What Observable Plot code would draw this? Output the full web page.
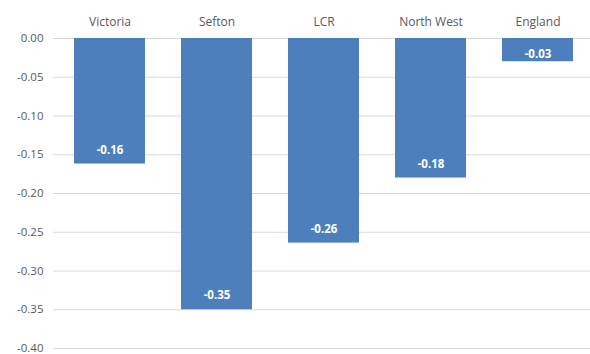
<!DOCTYPE html>
<html>
<head>
<meta charset="utf-8">
<script src="https://cdn.jsdelivr.net/npm/d3@7"></script>
<script src="https://cdn.jsdelivr.net/npm/@observablehq/plot@0.6"></script>
<style>
  html, body { margin: 0; padding: 0; background: #fff; }
  svg { display: block; }
</style>
</head>
<body>
<div id="chart"></div>
<script>
const categories = ["Victoria", "Sefton", "LCR", "North West", "England"];
const values = [-0.162, -0.35, -0.264, -0.18, -0.03];
const labels = ["-0.16", "-0.35", "-0.26", "-0.18", "-0.03"];
const yTicks = [0, -0.05, -0.10, -0.15, -0.20, -0.25, -0.30, -0.35, -0.40];

const data = categories.map((c, i) => ({category: c, value: values[i], label: labels[i]}));
const font = "'Open Sans', 'Liberation Sans', sans-serif";

const chart = Plot.plot({
  width: 590,
  height: 354,
  marginTop: 38,
  marginBottom: 6,
  marginLeft: 53,
  marginRight: 0,
  style: {fontFamily: font, background: "#fff"},
  x: {domain: categories, paddingInner: 0.34, paddingOuter: 0.17, range: [55.5, 590.5]},
  y: {domain: [-0.40, 0], ticks: yTicks},
  marks: [
    Plot.ruleY(yTicks, {stroke: "#d9d9d9", strokeWidth: 1}),
    Plot.barY(data, {x: "category", y: "value", fill: "#4e7fbd"}),
    Plot.axisX({anchor: "top", tickSize: 0, tickPadding: 13, fontSize: 12, fill: "#595959", label: null}),
    Plot.axisY({tickSize: 0, tickPadding: 10, fontSize: 11.5, fill: "#595959", label: null,
      tickFormat: d => d3.format(".2f")(d).replace("−", "-")}),
    Plot.text(data.filter(d => d.value < -0.05), {x: "category", y: "value", text: "label", dy: -14,
      fill: "white", fontWeight: "bold", fontSize: 11.5}),
    Plot.text(data.filter(d => d.value >= -0.05), {x: "category", y: "value", text: "label", dy: -7,
      fill: "white", fontWeight: "bold", fontSize: 11.5})
  ]
});
document.getElementById("chart").appendChild(chart);
</script>
</body>
</html>
